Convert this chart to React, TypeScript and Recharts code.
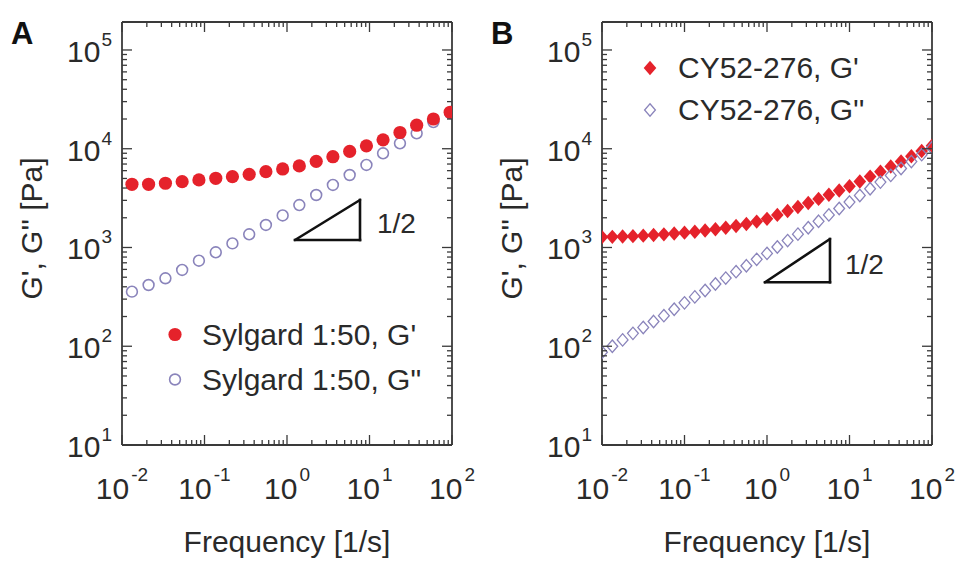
import React from 'react';
import { ScatterChart, Scatter, XAxis, YAxis, ReferenceLine, ReferenceDot, Legend } from 'recharts';

// ---------- Panel A: Sylgard 1:50 ----------
const freqA = [0.0132, 0.0210, 0.0336, 0.0536, 0.0856, 0.137, 0.218, 0.348, 0.555, 0.886, 1.41, 2.26, 3.60, 5.75, 9.18, 14.6, 23.4, 37.3, 59.5, 95.0];
const gPrimeA = [4365, 4365, 4470, 4640, 4830, 5020, 5215, 5510, 5860, 6240, 6700, 7450, 8300, 9400, 10700, 12300, 14600, 17300, 20000, 23400];
const gDoublePrimeA = [357, 417, 488, 592, 735, 894, 1100, 1360, 1690, 2110, 2690, 3400, 4300, 5420, 6850, 8990, 11350, 14330, 18600, 23000];

// ---------- Panel B: CY52-276 ----------
const freqB = [0.01, 0.01334, 0.01778, 0.02371, 0.03162, 0.04217, 0.05623, 0.07499, 0.1, 0.1334, 0.1778, 0.2371, 0.3162, 0.4217, 0.5623, 0.7499, 1, 1.334, 1.778, 2.371, 3.162, 4.217, 5.623, 7.499, 10, 13.34, 17.78, 23.71, 31.62, 42.17, 56.23, 74.99, 100];
const gPrimeB = [1274, 1282, 1291, 1303, 1318, 1337, 1358, 1384, 1413, 1445, 1486, 1531, 1585, 1652, 1730, 1828, 1950, 2138, 2344, 2570, 2818, 3105, 3420, 3776, 4169, 4656, 5224, 5861, 6607, 7447, 8395, 9484, 10715];
const gDoublePrimeB = [87, 100, 116, 135, 155, 178, 204, 237, 275, 316, 367, 427, 490, 569, 653, 759, 871, 1012, 1175, 1365, 1585, 1841, 2138, 2483, 2884, 3365, 3936, 4592, 5370, 6310, 7413, 8710, 10233];

// ---------- Axis ticks ----------
const xTicks = [
  0.01, 0.02, 0.03, 0.04, 0.05, 0.06, 0.07, 0.08, 0.09,
  0.1, 0.2, 0.3, 0.4, 0.5, 0.6, 0.7, 0.8, 0.9,
  1, 2, 3, 4, 5, 6, 7, 8, 9,
  10, 20, 30, 40, 50, 60, 70, 80, 90,
  100,
];
const yTicks = [
  10, 20, 30, 40, 50, 60, 70, 80, 90,
  100, 200, 300, 400, 500, 600, 700, 800, 900,
  1000, 2000, 3000, 4000, 5000, 6000, 7000, 8000, 9000,
  10000, 20000, 30000, 40000, 50000, 60000, 70000, 80000, 90000,
  100000,
];
const xDomain = [0.01, 100];
const yDomain = [10, 192000];

// slope triangles (data coordinates) and their "1/2" labels
const triangleA = { xLeft: 1.25, xRight: 7.67, yLow: 1191, yHigh: 3027 };
const slopeLabelA = { x: 12.3, y: 1403 };
const triangleB = { xLeft: 0.946, xRight: 5.8, yLow: 445, yHigh: 1219 };
const slopeLabelB = { x: 8.81, y: 540 };

const legendA = ["Sylgard 1:50, G'", 'Sylgard 1:50, G"'];
const legendB = ["CY52-276, G'", "CY52-276, G''"];

// ---------- styles ----------
const FONT = "'Liberation Sans', Arial, Helvetica, sans-serif";
const INK = '#2a2a2a';
const AXIS = '#3a3a3a';
const RED = '#e5222b';
const PURPLE = '#8a84bb';

const isMajor = (v: number) => Math.abs(Math.log10(v) - Math.round(Math.log10(v))) < 1e-9;
const expText = (v: number) => {
  const e = Math.round(Math.log10(v));
  return e < 0 ? `-${-e}` : `${e}`;
};

const BottomTick = (p: any) => {
  const { x, y, payload } = p;
  const v = payload.value;
  const major = isMajor(v);
  return (
    <g>
      <line x1={x} x2={x} y1={y} y2={y - (major ? 10 : 5)} stroke={AXIS} strokeWidth={1.3} />
      {major && (
        <text x={x} y={y + 54} textAnchor="middle" fontFamily={FONT} fontSize={30} fill={INK}>
          10
          <tspan dx={2} dy={-18} fontSize={19}>{expText(v)}</tspan>
        </text>
      )}
    </g>
  );
};

const TopTick = (p: any) => {
  const { x, y, payload } = p;
  const major = isMajor(payload.value);
  return <line x1={x} x2={x} y1={y} y2={y + (major ? 10 : 5)} stroke={AXIS} strokeWidth={1.3} />;
};

const LeftTick = (p: any) => {
  const { x, y, payload } = p;
  const v = payload.value;
  const major = isMajor(v);
  return (
    <g>
      <line x1={x} x2={x + (major ? 10 : 5)} y1={y} y2={y} stroke={AXIS} strokeWidth={1.3} />
      {major && (
        <text x={x - 55} y={y + 12} textAnchor="start" fontFamily={FONT} fontSize={30} fill={INK}>
          10
          <tspan dx={1} dy={-16} fontSize={19}>{expText(v)}</tspan>
        </text>
      )}
    </g>
  );
};

const RightTick = (p: any) => {
  const { x, y, payload } = p;
  const major = isMajor(payload.value);
  return <line x1={x} x2={x - (major ? 10 : 5)} y1={y} y2={y} stroke={AXIS} strokeWidth={1.3} />;
};

const YTitle = (p: any) => {
  const vb = p.viewBox || { x: 0, y: 0, width: 0, height: 0 };
  const cx = vb.x + vb.width - 91;
  const cy = vb.y + vb.height / 2 - 5;
  return (
    <text x={cx} y={cy} transform={`rotate(-90 ${cx} ${cy})`} textAnchor="middle" dominantBaseline="central"
      fontFamily={FONT} fontSize={30} fill={INK}>
      {"G', G'' [Pa]"}
    </text>
  );
};

const XTitle = (p: any) => {
  const vb = p.viewBox || { x: 0, y: 0, width: 0, height: 0 };
  return (
    <text x={vb.x + vb.width / 2} y={vb.y + 107} textAnchor="middle" fontFamily={FONT} fontSize={30} fill={INK}>
      Frequency [1/s]
    </text>
  );
};

const diamond = (cx: number, cy: number, hw: number, hh: number) =>
  `${cx},${cy - hh} ${cx + hw},${cy} ${cx},${cy + hh} ${cx - hw},${cy}`;

const FilledCircle = (p: any) => <circle cx={p.cx} cy={p.cy} r={6.6} fill={RED} />;
const OpenCircle = (p: any) => <circle cx={p.cx} cy={p.cy} r={5.4} fill="none" stroke={PURPLE} strokeWidth={1.6} />;
const FilledDiamond = (p: any) => <polygon points={diamond(p.cx, p.cy, 6.3, 7.2)} fill={RED} />;
const OpenDiamond = (p: any) => <polygon points={diamond(p.cx, p.cy, 5.4, 6.2)} fill="none" stroke={PURPLE} strokeWidth={1.3} />;

const SlopeText = (p: any) => (
  <text x={p.cx} y={p.cy} fontFamily={FONT} fontSize={28} fill={INK}>1/2</text>
);

const zip = (xs: number[], ys: number[]) => xs.map((x, i) => ({ x, y: ys[i] }));

type LegendItem = { label: string; marker: 'fc' | 'oc' | 'fd' | 'od' };

const LegendBox = ({ items, rowH, gap }: { items: LegendItem[]; rowH: number; gap: number }) => (
  <div style={{ fontFamily: FONT, fontSize: 30, color: INK }}>
    {items.map((it) => (
      <div key={it.label} style={{ display: 'flex', alignItems: 'center', height: rowH, whiteSpace: 'nowrap' }}>
        <svg width={30} height={rowH} style={{ display: 'block' }}>
          {it.marker === 'fc' && <circle cx={15} cy={rowH / 2} r={6.6} fill={RED} />}
          {it.marker === 'oc' && <circle cx={15} cy={rowH / 2} r={5.4} fill="none" stroke={PURPLE} strokeWidth={1.6} />}
          {it.marker === 'fd' && <polygon points={diamond(15, rowH / 2, 6.3, 7.2)} fill={RED} />}
          {it.marker === 'od' && <polygon points={diamond(15, rowH / 2, 5.4, 6.2)} fill="none" stroke={PURPLE} strokeWidth={1.3} />}
        </svg>
        <span style={{ marginLeft: gap, lineHeight: 1 }}>{it.label}</span>
      </div>
    ))}
  </div>
);

type PanelProps = {
  letter: string;
  back: { data: { x: number; y: number }[]; shape: any; name: string };
  front: { data: { x: number; y: number }[]; shape: any; name: string };
  tri: { xLeft: number; xRight: number; yLow: number; yHigh: number };
  slope: { x: number; y: number };
  legend: React.ReactNode;
  legendPos: { left: number; top: number };
};

const TRI_STROKE = { stroke: '#111', strokeWidth: 2.6 };

function Panel({ letter, back, front, tri, slope, legend, legendPos }: PanelProps) {
  return (
    <div style={{ position: 'relative', width: 480, height: 563 }}>
      <div style={{ position: 'absolute', left: 11, top: 21, fontFamily: FONT, fontWeight: 'bold', fontSize: 31, lineHeight: '26px', color: '#111' }}>
        {letter}
      </div>
      <ScatterChart width={480} height={563} margin={{ top: 21, right: 27, bottom: 117, left: 121 }}>
        <XAxis type="number" dataKey="x" scale="log" domain={xDomain} allowDataOverflow ticks={xTicks} interval={0}
          height={1} tickSize={0} tickMargin={0} tick={BottomTick} axisLine={{ stroke: AXIS, strokeWidth: 1.8 }}
          label={<XTitle />} />
        <XAxis xAxisId="top" orientation="top" type="number" dataKey="x" scale="log" domain={xDomain} allowDataOverflow
          ticks={xTicks} interval={0} height={1} tickSize={0} tickMargin={0} tick={TopTick}
          axisLine={{ stroke: AXIS, strokeWidth: 1.8 }} />
        <YAxis type="number" dataKey="y" scale="log" domain={yDomain} allowDataOverflow ticks={yTicks} interval={0}
          width={1} tickSize={0} tickMargin={0} tick={LeftTick} axisLine={{ stroke: AXIS, strokeWidth: 1.8 }}
          label={<YTitle />} />
        <YAxis yAxisId="right" orientation="right" type="number" dataKey="y" scale="log" domain={yDomain} allowDataOverflow
          ticks={yTicks} interval={0} width={1} tickSize={0} tickMargin={0} tick={RightTick}
          axisLine={{ stroke: AXIS, strokeWidth: 1.8 }} />
        <Scatter name={back.name} data={back.data} shape={back.shape} isAnimationActive={false} />
        <Scatter name={front.name} data={front.data} shape={front.shape} isAnimationActive={false} />
        <ReferenceLine segment={[{ x: tri.xLeft, y: tri.yLow }, { x: tri.xRight, y: tri.yHigh }]} {...TRI_STROKE} strokeLinecap="round" ifOverflow="visible" />
        <ReferenceLine segment={[{ x: tri.xRight, y: tri.yHigh }, { x: tri.xRight, y: tri.yLow }]} {...TRI_STROKE} strokeLinecap="square" ifOverflow="visible" />
        <ReferenceLine segment={[{ x: tri.xLeft, y: tri.yLow }, { x: tri.xRight, y: tri.yLow }]} {...TRI_STROKE} strokeLinecap="square" ifOverflow="visible" />
        <ReferenceDot x={slope.x} y={slope.y} r={0} shape={SlopeText} ifOverflow="visible" />
        <Legend layout="vertical" align="center" verticalAlign="middle"
          wrapperStyle={{ left: legendPos.left, top: legendPos.top, width: 320, height: 'auto' }}
          content={() => legend} />
      </ScatterChart>
    </div>
  );
}

export default function App() {
  return (
    <div style={{ position: 'absolute', left: 0, top: 0, width: 960, height: 563, background: '#fff', overflow: 'hidden' }}>
      <div style={{ position: 'absolute', left: 0, top: 0 }}>
        <Panel
          letter="A"
          back={{ data: zip(freqA, gDoublePrimeA), shape: OpenCircle, name: legendA[1] }}
          front={{ data: zip(freqA, gPrimeA), shape: FilledCircle, name: legendA[0] }}
          tri={triangleA}
          slope={slopeLabelA}
          legendPos={{ left: 160, top: 312 }}
          legend={<LegendBox rowH={45} gap={12} items={[{ label: legendA[0], marker: 'fc' }, { label: legendA[1], marker: 'oc' }]} />}
        />
      </div>
      <div style={{ position: 'absolute', left: 480, top: 0 }}>
        <Panel
          letter="B"
          back={{ data: zip(freqB, gPrimeB), shape: FilledDiamond, name: legendB[0] }}
          front={{ data: zip(freqB, gDoublePrimeB), shape: OpenDiamond, name: legendB[1] }}
          tri={triangleB}
          slope={slopeLabelB}
          legendPos={{ left: 155, top: 47 }}
          legend={<LegendBox rowH={42} gap={13} items={[{ label: legendB[0], marker: 'fd' }, { label: legendB[1], marker: 'od' }]} />}
        />
      </div>
    </div>
  );
}
